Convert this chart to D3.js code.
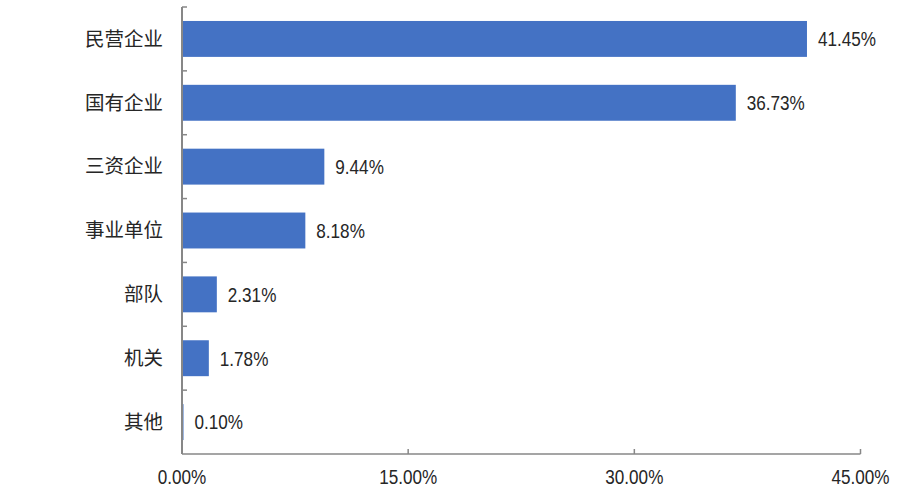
<!DOCTYPE html>
<html><head><meta charset="utf-8">
<script src="https://cdn.jsdelivr.net/npm/d3@7"></script>
<style>
body{margin:0;background:#fff;}
svg{display:block;}
.num{font-family:"Liberation Sans",Arial,sans-serif;}
.cat{font-family:"Noto Sans CJK SC","Noto Sans",sans-serif;}
</style></head>
<body>
<script>
const categories = ["民营企业","国有企业","三资企业","事业单位","部队","机关","其他"];
const values = [41.45, 36.73, 9.44, 8.18, 2.31, 1.78, 0.10];
const xTicks = [0, 15, 30, 45];

const W = 909, H = 495;
const m = {left:182, right:48.5, top:7, bottom:41};
const svg = d3.select("body").append("svg").attr("width",W).attr("height",H);

const x = d3.scaleLinear().domain([0,45]).range([m.left, W-m.right]);
const y = d3.scaleBand().domain(categories).range([m.top, H-m.bottom]).paddingInner(0.4375).paddingOuter(0.21875);
const yb = d3.scaleBand().domain(categories).range([m.top, H-m.bottom]);

const textColor = "#262626", axisColor = "#878787", barColor = "#4472C4";
const sx = 0.835, fs = 20.5;

// bars
svg.selectAll("rect.bar").data(values).enter().append("rect")
  .attr("x", x(0)).attr("y", (d,i)=>y(categories[i]))
  .attr("width", d=>x(d)-x(0)).attr("height", y.bandwidth())
  .attr("fill", barColor);

// value labels
svg.selectAll("text.val").data(values).enter().append("text")
  .attr("class","num")
  .attr("transform",(d,i)=>`translate(${x(d)+11},${y(categories[i])+y.bandwidth()/2}) scale(${sx},1)`)
  .attr("dy","0.36em").attr("font-size",fs).attr("fill",textColor)
  .text(d=>d.toFixed(2)+"%");

// y axis line
const g = svg.append("g");
g.append("line").attr("x1",x(0)).attr("x2",x(0)).attr("y1",m.top).attr("y2",H-m.bottom)
  .attr("stroke",axisColor).attr("stroke-width",2);
// y ticks at band boundaries
const bounds = categories.map(c=>yb(c));
g.selectAll("line.yt").data(bounds).enter().append("line")
  .attr("x1",x(0)).attr("x2",x(0)+5).attr("y1",d=>d).attr("y2",d=>d)
  .attr("stroke",axisColor).attr("stroke-width",1.5);
// category labels
svg.selectAll("text.cat").data(categories).enter().append("text")
  .attr("class","cat")
  .attr("x", 163).attr("y", d=>yb(d)+yb.bandwidth()/2)
  .attr("dy","0.35em").attr("text-anchor","end").attr("font-size",19.5).attr("fill",textColor)
  .text(d=>d);

// x axis
g.append("line").attr("x1",x(0)).attr("x2",x(45)).attr("y1",H-m.bottom).attr("y2",H-m.bottom)
  .attr("stroke",axisColor).attr("stroke-width",1.5);
g.selectAll("line.xt").data(xTicks).enter().append("line")
  .attr("x1",d=>x(d)).attr("x2",d=>x(d)).attr("y1",H-m.bottom).attr("y2",H-m.bottom-5)
  .attr("stroke",axisColor).attr("stroke-width",1.5);
svg.selectAll("text.xt").data(xTicks).enter().append("text")
  .attr("class","num")
  .attr("transform",d=>`translate(${x(d)},${H-m.bottom+30}) scale(${sx},1)`)
  .attr("text-anchor","middle").attr("font-size",fs).attr("fill",textColor)
  .text(d=>d.toFixed(2)+"%");
</script>
</body></html>
